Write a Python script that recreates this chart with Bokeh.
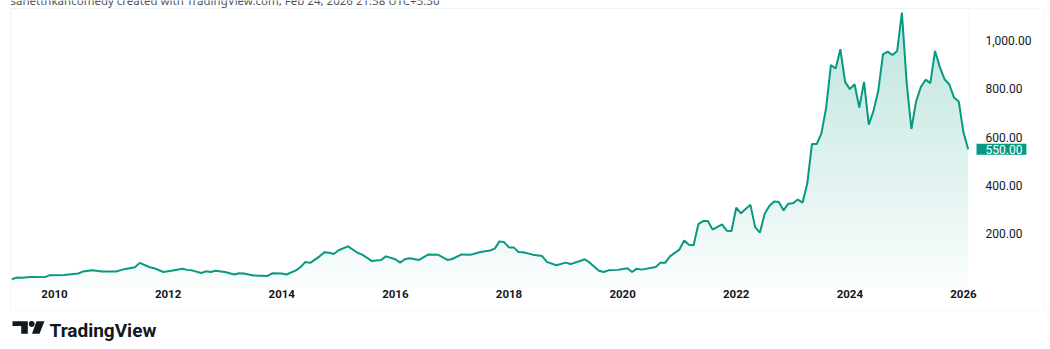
import numpy as np
from bokeh.plotting import figure
from bokeh.models import Range1d, FixedTicker, NumeralTickFormatter, Label, BoxAnnotation, PolyAnnotation
from bokeh.embed import file_html
from bokeh.resources import INLINE

# ---------------- data ----------------
months = [
    "2009-04", "2009-05", "2009-06", "2009-08", "2009-11", "2009-12", "2010-03", "2010-06", "2010-07", "2010-09",
    "2010-11", "2011-02", "2011-04", "2011-06", "2011-07", "2011-09", "2011-10", "2011-12", "2012-02", "2012-04",
    "2012-05", "2012-06", "2012-08", "2012-09", "2012-10", "2012-11", "2013-01", "2013-03", "2013-04", "2013-05",
    "2013-07", "2013-10", "2013-11", "2014-01", "2014-02", "2014-04", "2014-05", "2014-06", "2014-07", "2014-09",
    "2014-10", "2014-11", "2014-12", "2015-01", "2015-03", "2015-05", "2015-06", "2015-08", "2015-10", "2015-11",
    "2016-01", "2016-02", "2016-03", "2016-04", "2016-06", "2016-08", "2016-10", "2016-12", "2017-01", "2017-03",
    "2017-05", "2017-07", "2017-09", "2017-10", "2017-11", "2017-12", "2018-01", "2018-02", "2018-03", "2018-04",
    "2018-06", "2018-08", "2018-09", "2018-11", "2019-01", "2019-02", "2019-04", "2019-05", "2019-06", "2019-08",
    "2019-09", "2019-10", "2019-12", "2020-02", "2020-03", "2020-04", "2020-05", "2020-08", "2020-09", "2020-10",
    "2020-11", "2021-01", "2021-02", "2021-03", "2021-04", "2021-05", "2021-06", "2021-07", "2021-08", "2021-10",
    "2021-11", "2021-12", "2022-01", "2022-02", "2022-04", "2022-05", "2022-06", "2022-07", "2022-08", "2022-09",
    "2022-10", "2022-11", "2022-12", "2023-01", "2023-02", "2023-03", "2023-04", "2023-05", "2023-06", "2023-07",
    "2023-08", "2023-09", "2023-10", "2023-11", "2023-12", "2024-01", "2024-02", "2024-03", "2024-04", "2024-05",
    "2024-06", "2024-07", "2024-08", "2024-09", "2024-10", "2024-11", "2024-12", "2025-01", "2025-02", "2025-03",
    "2025-04", "2025-05", "2025-06", "2025-07", "2025-08", "2025-09", "2025-10", "2025-11", "2025-12", "2026-01",
    "2026-02",
]
prices = [
    12, 19, 18, 22, 21, 29, 30, 36, 44, 49,
    44, 44, 55, 62, 80, 63, 58, 42, 48, 56,
    51, 49, 38, 45, 42, 47, 42, 32, 37, 36,
    28, 26, 37, 36, 32, 49, 63, 84, 80, 107,
    124, 122, 117, 132, 148, 122, 114, 88, 92, 107,
    95, 81, 95, 99, 92, 115, 114, 92, 96, 115,
    114, 125, 131, 139, 169, 165, 144, 144, 125, 124,
    114, 108, 84, 70, 81, 75, 88, 95, 82, 47,
    42, 49, 51, 58, 42, 56, 52, 63, 81, 80,
    107, 135, 173, 155, 153, 240, 253, 253, 218, 239,
    213, 212, 308, 285, 320, 228, 205, 283, 315, 334,
    332, 297, 325, 327, 342, 329, 407, 572, 572, 616,
    723, 899, 884, 964, 829, 799, 819, 723, 829, 652,
    709, 792, 943, 954, 940, 957, 1115, 826, 634, 748,
    808, 838, 824, 957, 891, 840, 819, 764, 748, 620,
    550,
]
year_ticks = [2010, 2012, 2014, 2016, 2018, 2020, 2022, 2024, 2026]
price_ticks = [200, 400, 600, 800, 1000]
caption = "sanetthkancomedy created with TradingView.com, Feb 24, 2026 21:58 UTC+5:30"
brand = "TradingView"

assert len(months) == len(prices)


def to_year(m):
    y, mo = m.split("-")
    return int(y) + (int(mo) - 1) / 12.0


xs = [to_year(m) for m in months]

# ---------------- layout (canvas pixels) ----------------
W, H = 1050, 349
PX_PER_YEAR = 56.81          # horizontal scale
YEAR_AT_PX54 = 2010.0
UNITS_PER_PX = 4.138         # vertical scale
ZERO_PX = 281.7              # canvas row of price 0
PANE = dict(left=10, right=1043, top=8, bottom=310)
PLOT_TOP, PLOT_BOTTOM = 8, 287

X0 = YEAR_AT_PX54 - 54 / PX_PER_YEAR
X1 = X0 + W / PX_PER_YEAR
Y_TOP = ZERO_PX * UNITS_PER_PX
Y_BOT = -(H - ZERO_PX) * UNITS_PER_PX


def val_at_row(row):
    return (ZERO_PX - row) * UNITS_PER_PX


GREEN = "#089981"
TXT = "#131722"

p = figure(width=W, height=H, x_range=Range1d(X0, X1), y_range=Range1d(Y_BOT, Y_TOP),
           output_backend="svg", toolbar_location=None, y_axis_location="right", title=None,
           min_border=0, min_border_left=0, min_border_right=0, min_border_top=0, min_border_bottom=0)
p.outline_line_color = None
p.grid.visible = False
p.background_fill_color = "white"
p.border_fill_color = "white"

# gradient under the line: vertical gradient image, masked with white above the line
GH = 300
t = np.linspace(0.0, 1.0, GH)
alpha = 0.02 + 0.25 * t
base = np.array([8, 153, 129], dtype=float)
rgb = 255.0 - alpha[:, None] * (255.0 - base[None, :])
img = np.zeros((GH, 2), dtype=np.uint32)
view = img.view(dtype=np.uint8).reshape((GH, 2, 4))
for c in range(3):
    view[:, :, c] = np.round(rgb[:, c])[:, None].astype(np.uint8)
view[:, :, 3] = 255
g_bot, g_top = val_at_row(PLOT_BOTTOM), val_at_row(PLOT_TOP)
p.image_rgba(image=[img], x=xs[0], y=g_bot, dw=xs[-1] - xs[0], dh=g_top - g_bot)
p.varea(x=xs, y1=prices, y2=g_top, fill_color="white")
p.line(xs, prices, line_color=GREEN, line_width=2)

# axes (labels pulled into the canvas with negative standoffs)
xa = p.xaxis[0]
xa.ticker = FixedTicker(ticks=year_ticks)
xa.formatter = NumeralTickFormatter(format="0")
ya = p.yaxis[0]
ya.ticker = FixedTicker(ticks=price_ticks)
ya.formatter = NumeralTickFormatter(format="0,0.00")
for ax in (xa, ya):
    ax.axis_line_color = None
    ax.major_tick_line_color = None
    ax.minor_tick_line_color = None
    ax.major_tick_out = 0
    ax.major_tick_in = 0
    ax.minor_tick_out = 0
    ax.minor_tick_in = 0
    ax.major_label_text_color = TXT
    ax.major_label_text_font = "Roboto"
xa.major_label_text_font_size = "11.5px"
xa.major_label_text_font_style = "bold"
xa.major_label_standoff = 289 - H
ya.major_label_text_font_size = "12px"
ya.major_label_standoff = 985 - W

# outer pane border
p.add_layout(BoxAnnotation(left=PANE["left"], right=PANE["right"], top=H - PANE["top"], bottom=H - PANE["bottom"],
                           left_units="screen", right_units="screen", top_units="screen", bottom_units="screen",
                           fill_alpha=0, line_color="#e0e3eb", line_width=1))

# last price badge
p.add_layout(Label(x=976, x_units="screen", y=prices[-1], y_units="data",
                   text=f"{prices[-1]:,.2f}", text_color="white", text_font="Roboto",
                   text_font_size="12px", text_baseline="middle", text_align="left",
                   background_fill_color=GREEN, padding=dict(left=9, right=4, top=1, bottom=1)))

# caption (cut off at the top edge, as in the reference)
p.add_layout(Label(x=10, y=H + 0.5, x_units="screen", y_units="screen", text=caption,
                   text_color="#50535e", text_font="Noto Sans", text_font_size="11.5px",
                   text_baseline="alphabetic", text_align="left"))

# TradingView logo
def scr(cx, cy):
    return cx, H - cy


bar = [scr(12, 320.7), scr(27.3, 320.7), scr(27.3, 333.3), scr(20.7, 333.3), scr(20.7, 325.5), scr(12, 325.5)]
slash = [scr(36, 320.7), scr(44, 320.7), scr(39, 333.3), scr(31.5, 333.3)]
ang = np.linspace(0, 2 * np.pi, 20, endpoint=False)
dot = [scr(31.2 + 3.0 * np.cos(a), 323.4 + 3.0 * np.sin(a)) for a in ang]
for shape in (bar, slash, dot):
    p.add_layout(PolyAnnotation(xs=[q[0] for q in shape], ys=[q[1] for q in shape],
                                xs_units="screen", ys_units="screen",
                                fill_color=TXT, fill_alpha=1, line_color=None))
p.add_layout(Label(x=49, y=H - 330, x_units="screen", y_units="screen", text=brand,
                   text_color=TXT, text_font="Roboto", text_font_size="19px",
                   text_font_style="bold", text_baseline="alphabetic", text_align="left"))

open("out.html", "w").write(file_html(p, INLINE))
